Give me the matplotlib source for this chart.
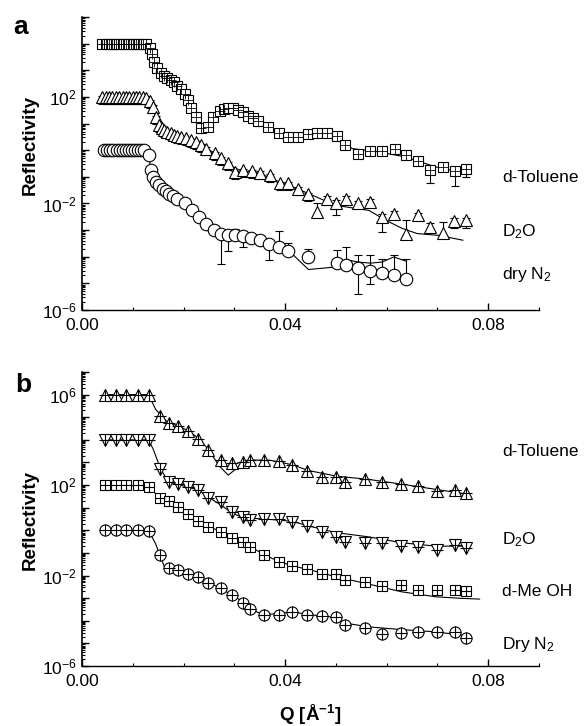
import numpy as np
import matplotlib
matplotlib.use("Agg")
import matplotlib.pyplot as plt
from matplotlib.ticker import LogLocator, FuncFormatter, MultipleLocator, NullFormatter

plt.rcParams['font.family'] = ['Liberation Sans', 'DejaVu Sans']
plt.rcParams['mathtext.fontset'] = 'custom'
plt.rcParams['mathtext.rm'] = 'Liberation Sans'
plt.rcParams['mathtext.bf'] = 'Liberation Sans:bold'
plt.rcParams['mathtext.it'] = 'Liberation Sans:italic'

# ---------------- panel a (log10 reflectivity) ----------------
q_sq_a = [0.0040, 0.0047, 0.0053, 0.0060, 0.0067, 0.0073, 0.0080, 0.0087, 0.0093,
          0.0100, 0.0107, 0.0113, 0.0120, 0.0127, 0.0133, 0.0138, 0.0142, 0.0148,
          0.0155, 0.0162, 0.0168, 0.0175, 0.0182, 0.0188, 0.0195, 0.0202, 0.0208,
          0.0215, 0.0225, 0.0235, 0.0248, 0.0258, 0.0271, 0.0280, 0.0287, 0.0297,
          0.0307, 0.0317, 0.0327, 0.0337, 0.0347, 0.0367, 0.0387, 0.0406, 0.0426,
          0.0446, 0.0462, 0.0482, 0.0502, 0.0518, 0.0544, 0.0568, 0.0591, 0.0616,
          0.0639, 0.0662, 0.0686, 0.0710, 0.0734, 0.0756]
r_sq_a = [4.0, 4.0, 4.0, 4.0, 4.0, 4.0, 4.0, 4.0, 4.0,
          4.0, 4.0, 4.0, 4.0, 3.98, 3.85, 3.6, 3.3, 3.1,
          2.9, 2.8, 2.7, 2.62, 2.55, 2.42, 2.3, 2.1, 1.9,
          1.6, 1.25, 0.82, 0.88, 1.25, 1.48, 1.55, 1.57, 1.57,
          1.52, 1.45, 1.3, 1.2, 1.08, 0.88, 0.65, 0.5, 0.48,
          0.62, 0.65, 0.63, 0.53, 0.19, -0.15, -0.03, -0.03, 0.03,
          -0.19, -0.4, -0.75, -0.65, -0.78, -0.72]
lo_sq_a = [0.08] * 54 + [0.1, 0.12, 0.5, 0.15, 0.55, 0.3]
hi_sq_a = [0.08] * 54 + [0.1, 0.1, 0.1, 0.1, 0.1, 0.12]

q_tr_a = [0.0040, 0.0047, 0.0053, 0.0060, 0.0067, 0.0073, 0.0080, 0.0087, 0.0093,
          0.0100, 0.0107, 0.0113, 0.0120, 0.0127, 0.0133, 0.0139, 0.0146, 0.0152,
          0.0157, 0.0162, 0.0168, 0.0175, 0.0182, 0.0188, 0.0195, 0.0205, 0.0215,
          0.0225, 0.0235, 0.0245, 0.0261, 0.0274, 0.0287, 0.0301, 0.0317, 0.0334,
          0.0350, 0.0370, 0.0390, 0.0406, 0.0426, 0.0446, 0.0462, 0.0482, 0.0501,
          0.0520, 0.0544, 0.0568, 0.0591, 0.0614, 0.0639, 0.0662, 0.0686, 0.0710,
          0.0733, 0.0756]
r_tr_a = [2.0, 2.0, 2.0, 2.0, 2.0, 2.0, 2.0, 2.0, 2.0,
          2.0, 2.0, 2.0, 2.0, 1.97, 1.85, 1.63, 1.25, 0.94,
          0.85, 0.75, 0.7, 0.63, 0.58, 0.53, 0.5, 0.44, 0.38,
          0.31, 0.2, 0.06, -0.12, -0.31, -0.5, -0.82, -0.75, -0.78,
          -0.85, -0.94, -1.25, -1.23, -1.44, -1.66, -2.32, -1.82, -1.98,
          -1.82, -2.0, -1.94, -2.51, -2.38, -3.13, -2.44, -2.88, -3.11,
          -2.66, -2.63]
lo_tr_a = [0.25] * 42 + [0.1, 0.25, 0.46, 0.2, 0.15, 0.2, 0.56, 0.15, 0.1, 0.15, 0.2, 0.1, 0.28, 0.28]
hi_tr_a = [0.05] * 42 + [0.32, 0.1, 0.1, 0.1, 0.1, 0.1, 0.1, 0.1, 0.5, 0.1, 0.15, 0.42, 0.1, 0.1]

q_ci_a = [0.0044, 0.0050, 0.0056, 0.0062, 0.0068, 0.0074, 0.0080, 0.0086, 0.0092,
          0.0098, 0.0104, 0.0110, 0.0116, 0.0122, 0.0132, 0.0136, 0.0139, 0.0146,
          0.0152, 0.0159, 0.0165, 0.0172, 0.0179, 0.0188, 0.0203, 0.0217, 0.0230,
          0.0245, 0.0260, 0.0274, 0.0287, 0.0302, 0.0317, 0.0332, 0.0350, 0.0369,
          0.0388, 0.0406, 0.0445, 0.0502, 0.0520, 0.0544, 0.0568, 0.0591, 0.0614,
          0.0639]
r_ci_a = [0.0, 0.0, 0.0, 0.0, 0.0, 0.0, 0.0, 0.0, 0.0,
          0.0, 0.0, 0.0, 0.0, 0.0, -0.19, -0.75, -1.0, -1.19,
          -1.32, -1.44, -1.53, -1.63, -1.73, -1.82, -1.98, -2.26, -2.51,
          -2.76, -3.01, -3.13, -3.2, -3.2, -3.23, -3.28, -3.38, -3.51,
          -3.63, -3.8, -4.0, -4.24, -4.32, -4.42, -4.54, -4.61, -4.70,
          -4.82]
lo_ci_a = [0.0] * 14 + [0.0, 0.15, 0.15, 0.1, 0.1, 0.1, 0.1, 0.1, 0.1, 0.2, 0.1, 0.1, 0.1,
                        0.1, 0.1, 1.13, 0.58, 0.1, 0.4, 0.05, 0.1, 0.6,
                        0.1, 0.15, 0.1, 0.1, 0.1, 0.97, 0.5, 0.1, 0.1, 0.1]
hi_ci_a = [0.0] * 14 + [0.0, 0.15, 0.1, 0.1, 0.1, 0.1, 0.1, 0.1, 0.1, 0.1, 0.1, 0.1, 0.1,
                        0.15, 0.05, 0.1, 0.1, 0.23, 0.1, 0.05, 0.15, 0.1,
                        0.58, 0.3, 0.3, 0.51, 0.69, 0.47, 0.59, 0.51, 0.75, 0.75]

qf_sq_a = [0.004, 0.0127, 0.0135, 0.0145, 0.016, 0.018, 0.0195, 0.021, 0.0225, 0.0237,
           0.025, 0.027, 0.029, 0.031, 0.034, 0.038, 0.042, 0.045, 0.048, 0.0505,
           0.0532, 0.058, 0.0636, 0.0697, 0.0756]
rf_sq_a = [4.0, 4.0, 3.7, 3.15, 2.85, 2.55, 2.3, 1.95, 1.3, 0.78,
           1.0, 1.42, 1.55, 1.5, 1.15, 0.65, 0.5, 0.6, 0.6, 0.45,
           0.06, -0.05, -0.25, -0.63, -0.88]
qf_tr_a = [0.004, 0.0125, 0.0135, 0.0145, 0.0155, 0.017, 0.019, 0.0225, 0.026, 0.029,
           0.031, 0.035, 0.039, 0.043, 0.0455, 0.0499, 0.0565, 0.0598, 0.0631, 0.066,
           0.0703, 0.075]
rf_tr_a = [2.0, 2.0, 1.8, 1.3, 0.9, 0.68, 0.53, 0.3, -0.1, -0.55,
           -0.75, -0.87, -1.2, -1.5, -1.7, -2.07, -2.26, -2.63, -2.94, -3.13,
           -3.2, -3.38]
qf_ci_a = [0.0044, 0.0128, 0.0133, 0.0137, 0.0145, 0.016, 0.018, 0.02, 0.023, 0.026,
           0.028, 0.032, 0.035, 0.0388, 0.0406, 0.0446, 0.0502, 0.052, 0.0544, 0.0568,
           0.0591, 0.0614, 0.0639]
rf_ci_a = [0.0, 0.0, -0.4, -0.85, -1.2, -1.47, -1.72, -1.95, -2.5, -3.0,
           -3.17, -3.22, -3.38, -3.6, -3.75, -4.48, -4.38, -4.11, -4.2, -4.24,
           -4.2, -4.01, -4.17]

# ---------------- panel b ----------------
q_b = [0.00446, 0.00663, 0.00875, 0.01093, 0.01311, 0.0154, 0.0172, 0.01885, 0.02095,
       0.02293, 0.0249, 0.0273, 0.0296, 0.0317, 0.0330, 0.0359, 0.0387, 0.0414, 0.0444,
       0.0472, 0.0501, 0.0518, 0.0557, 0.0591, 0.0629, 0.0662, 0.0700, 0.0734, 0.0756]
r_tol_b = [6, 6, 6, 6, 6, 5.07, 4.73, 4.62, 4.39, 4.04, 3.55, 3.11, 2.96, 3.0, 3.11,
           3.11, 3.06, 2.88, 2.63, 2.37, 2.37, 2.15, 2.25, 2.15, 2.04, 1.96, 1.75, 1.78, 1.65]
r_d2o_b = [4, 4, 4, 4, 4, 2.71, 2.12, 2.03, 1.92, 1.78, 1.44, 1.26, 0.79, 0.60, 0.45,
           0.50, 0.50, 0.38, 0.18, -0.07, -0.31, -0.51, -0.55, -0.58, -0.70, -0.73, -0.85, -0.66, -0.80]
r_meoh_b = [2, 2, 2, 2, 1.9, 1.41, 1.29, 1.04, 0.70, 0.41, 0.16, -0.07, -0.33, -0.51, -0.73,
            -1.10, -1.39, -1.57, -1.71, -1.94, -1.94, -2.2, -2.28, -2.47, -2.42, -2.62, -2.62, -2.62, -2.68]
r_n2_b = [0, 0, 0, 0, -0.05, -1.1, -1.66, -1.76, -1.91, -2.06, -2.31, -2.57, -2.87, -3.21, -3.50,
          -3.75, -3.75, -3.63, -3.75, -3.80, -3.83, -4.19, -4.34, -4.59, -4.53, -4.49, -4.49, -4.49, -4.74]

qf_tol_b = [0.00446, 0.0131, 0.0145, 0.0165, 0.019, 0.021, 0.023, 0.025, 0.027, 0.0288,
            0.0305, 0.033, 0.037, 0.0414, 0.0445, 0.050, 0.0565, 0.063, 0.070, 0.075]
rf_tol_b = [6, 6, 5.35, 4.85, 4.6, 4.4, 4.05, 3.55, 2.85, 2.44,
            2.75, 3.11, 3.1, 2.9, 2.65, 2.4, 2.25, 2.04, 1.8, 1.63]
qf_d2o_b = [0.00446, 0.0131, 0.014, 0.0155, 0.017, 0.019, 0.023, 0.025, 0.0275, 0.0296,
            0.032, 0.036, 0.0414, 0.0445, 0.05, 0.0565, 0.063, 0.0697, 0.075]
rf_d2o_b = [4, 4, 3.6, 2.7, 2.15, 2.02, 1.78, 1.45, 1.1, 0.75,
            0.55, 0.5, 0.4, 0.2, -0.1, -0.29, -0.55, -0.70, -0.70]
qf_meoh_b = [0.00446, 0.0131, 0.0154, 0.0172, 0.019, 0.023, 0.0273, 0.0317, 0.033, 0.0359,
             0.0387, 0.0414, 0.0444, 0.05, 0.0565, 0.063, 0.0697, 0.075, 0.0783]
rf_meoh_b = [2.0, 1.95, 1.41, 1.25, 1.02, 0.4, -0.07, -0.5, -0.7, -1.08,
             -1.37, -1.57, -1.72, -2.05, -2.38, -2.72, -2.94, -3.01, -3.04]
qf_n2_b = [0.00446, 0.0131, 0.0145, 0.0162, 0.019, 0.023, 0.0273, 0.0317, 0.0345, 0.036,
           0.039, 0.0414, 0.0445, 0.05, 0.0518, 0.0565, 0.063, 0.0697, 0.075]
rf_n2_b = [0, 0, -0.6, -1.6, -1.8, -2.08, -2.57, -3.15, -3.62, -3.72,
           -3.68, -3.6, -3.72, -3.85, -4.1, -4.27, -4.39, -4.49, -4.64]


def p10(v):
    return 10.0 ** np.asarray(v, dtype=float)


def yerr(r, lo, hi):
    r = np.asarray(r, dtype=float)
    return [p10(r) - p10(r - np.asarray(lo)), p10(r + np.asarray(hi)) - p10(r)]


def style_axis(ax, ymin, ymax):
    ax.set_yscale('log')
    ax.set_xlim(0, 0.09)
    ax.set_ylim(10.0 ** ymin, 10.0 ** ymax)
    for s in ['top', 'right']:
        ax.spines[s].set_visible(False)
    ax.spines['left'].set_linewidth(1.2)
    ax.spines['bottom'].set_linewidth(1.0)
    ax.yaxis.set_major_locator(LogLocator(base=10, numticks=40))
    ax.yaxis.set_minor_locator(LogLocator(base=10, subs=np.arange(2, 10), numticks=40))
    ax.yaxis.set_minor_formatter(NullFormatter())
    ax.yaxis.set_major_formatter(FuncFormatter(
        lambda v, p: r'$\mathregular{10^{%d}}$' % round(np.log10(v))
        if round(np.log10(v)) % 4 == 2 else ''))
    ax.xaxis.set_major_locator(MultipleLocator(0.04))
    ax.xaxis.set_minor_locator(MultipleLocator(0.01))
    ax.xaxis.set_major_formatter(FuncFormatter(lambda v, p: '%.2f' % v))
    ax.tick_params(which='major', direction='in', length=5, width=1.0, labelsize=12.5, pad=6)
    ax.tick_params(which='minor', direction='in', length=2.5, width=0.8)
    ax.tick_params(axis='y', which='major', length=5, width=1.0, pad=4)


fig = plt.figure(figsize=(5.87, 7.26), dpi=100)
ax_a = fig.add_axes([0.1397, 0.573, 0.7785, 0.4036])
ax_b = fig.add_axes([0.1397, 0.0826, 0.7785, 0.405])

mk = dict(mfc='white', mec='black', mew=0.8, ls='none', ecolor='black',
          elinewidth=0.8, capsize=3, capthick=0.8)

# panel a
ax_a.plot(qf_sq_a, p10(rf_sq_a), color='black', lw=0.8, zorder=2)
ax_a.plot(qf_tr_a, p10(rf_tr_a), color='black', lw=0.8, zorder=2)
ax_a.plot(qf_ci_a, p10(rf_ci_a), color='black', lw=0.8, zorder=2)
ax_a.errorbar(q_sq_a, p10(r_sq_a), yerr=yerr(r_sq_a, lo_sq_a, hi_sq_a),
              marker='s', ms=6.5, zorder=3, **mk)
ax_a.plot(q_sq_a, p10(r_sq_a), marker='+', ms=6.5, mec='black', mew=0.6, ls='none', zorder=4)
ax_a.errorbar(q_tr_a, p10(r_tr_a), yerr=yerr(r_tr_a, lo_tr_a, hi_tr_a),
              marker='^', ms=8, zorder=3, **mk)
ax_a.errorbar(q_ci_a, p10(r_ci_a), yerr=yerr(r_ci_a, lo_ci_a, hi_ci_a),
              marker='o', ms=9, zorder=3, **mk)
style_axis(ax_a, -6, 5)

# panel b
for qf, rf in [(qf_tol_b, rf_tol_b), (qf_d2o_b, rf_d2o_b),
               (qf_meoh_b, rf_meoh_b), (qf_n2_b, rf_n2_b)]:
    ax_b.plot(qf, p10(rf), color='black', lw=0.8, zorder=2)
for r, m, s in [(r_tol_b, '^', 8.5), (r_d2o_b, 'v', 8.5), (r_meoh_b, 's', 7), (r_n2_b, 'o', 8)]:
    ax_b.plot(q_b, p10(r), marker=m, ms=s, mfc='white', mec='black', mew=0.8,
              ls='none', zorder=3)
    ax_b.plot(q_b, p10(r), marker='+', ms=s, mec='black', mew=0.8, ls='none', zorder=4)
style_axis(ax_b, -6, 7)

# labels
fs = 12.5
fig.text(30 / 587, 1 - 145 / 726, 'Reflectivity', rotation=90, fontsize=13.5,
         fontweight='bold', ha='center', va='center')
fig.text(30 / 587, 1 - 520 / 726, 'Reflectivity', rotation=90, fontsize=13.5,
         fontweight='bold', ha='center', va='center')
fig.text(310 / 587, 1 - 715 / 726, r'Q [Å$^{\mathbf{-1}}$]', fontsize=13.5,
         fontweight='bold', ha='center', va='center')
fig.text(21 / 587, 1 - 27 / 726, 'a', fontsize=19, fontweight='bold', ha='center', va='center')
fig.text(23 / 587, 1 - 385 / 726, 'b', fontsize=19, fontweight='bold', ha='center', va='center')

labels_a = [('d-Toluene', 177), (r'D$\mathregular{_2}$O', 232), (r'dry N$\mathregular{_2}$', 275)]
labels_b = [('d-Toluene', 451), (r'D$\mathregular{_2}$O', 540), ('d-Me OH', 592),
            (r'Dry N$\mathregular{_2}$', 645)]
for txt, py in labels_a + labels_b:
    fig.text(502 / 587, 1 - py / 726, txt, fontsize=fs, ha='left', va='center')

fig.savefig('out.png', dpi=100)
